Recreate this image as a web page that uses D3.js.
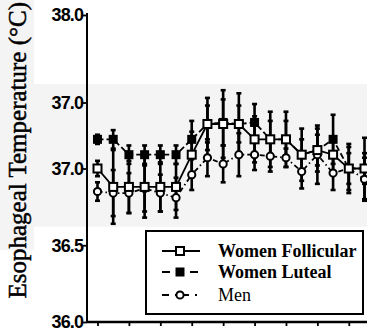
<!DOCTYPE html>
<html><head><meta charset="utf-8">
<script src="https://cdn.jsdelivr.net/npm/d3@7"></script>
<style>html,body{margin:0;padding:0;background:#fff;}svg{display:block;}</style>
</head><body><svg id="c" width="367" height="336"></svg>
<script>
const timePoints = d3.range(18);
const xTicks = [0, 2, 4, 6, 8, 10, 12, 14, 16];
const yTickValues = [36.0, 36.5, 37.0, 37.43, 38.0];
const yTickLabels = ["36.0", "36.5", "37.0", "37.0", "38.0"];
const seriesNames = ["Women Follicular", "Women Luteal", "Men"];
const follicular = [37.00, 36.88, 36.88, 36.88, 36.88, 36.88, 37.09, 37.29, 37.29, 37.29, 37.19, 37.19, 37.19, 37.09, 37.12, 37.09, 37.00, 37.00];
const follicularErr = [0.05, 0.24, 0.17, 0.20, 0.16, 0.15, 0.15, 0.17, 0.22, 0.20, 0.15, 0.18, 0.18, 0.17, 0.14, 0.12, 0.14, 0.20];
const luteal = [37.19, 37.19, 37.09, 37.09, 37.09, 37.09, 37.19, 37.29, 37.30, 37.29, 37.30, 37.19, 37.19, 37.09, 37.12, 37.19, 37.00, 37.00];
const lutealErr = [0.03, 0.06, 0.06, 0.06, 0.06, 0.06, 0.12, 0.12, 0.15, 0.12, 0.12, 0.12, 0.12, 0.10, 0.10, 0.16, 0.10, 0.10];
const men = [36.85, 36.84, 36.84, 36.87, 36.84, 36.81, 36.96, 37.07, 37.03, 37.09, 37.09, 37.08, 37.07, 36.98, 37.09, 36.97, 37.00, 36.93];
const menErr = [0.06, 0.15, 0.13, 0.15, 0.12, 0.13, 0.10, 0.12, 0.12, 0.14, 0.10, 0.10, 0.06, 0.11, 0.19, 0.11, 0.16, 0.14];
const yTitle = "Esophageal Temperature (°C)";

const svg = d3.select("#c");
const x = d3.scaleLinear().domain([0, 17]).range([97.5, 364.5]);
const y = d3.scaleLinear().domain([36, 38]).range([322, 15]);

// scanned light-gray patches
svg.append("rect").attr("x", 0).attr("y", 0).attr("width", 34).attr("height", 250).attr("fill", "#f4f4f4");
svg.append("rect").attr("x", 33).attr("y", y(37.55)).attr("width", 334).attr("height", y(36.62) - y(37.55)).attr("fill", "#f4f4f4");

const series = [
  {name: seriesNames[0], vals: follicular, err: follicularErr, dash: null, marker: "sqOpen"},
  {name: seriesNames[1], vals: luteal, err: lutealErr, dash: "6,3", marker: "sqFill"},
  {name: seriesNames[2], vals: men, err: menErr, dash: "5,3,1.5,3", marker: "circ"}
];

// error bars
const eb = svg.append("g").attr("stroke", "#000").attr("stroke-width", 2.6);
series.forEach(s => {
  timePoints.forEach(i => {
    const cx = x(i), lo = y(s.vals[i] - s.err[i]), hi = y(s.vals[i] + s.err[i]);
    eb.append("line").attr("x1", cx).attr("x2", cx).attr("y1", lo).attr("y2", hi);
    eb.append("line").attr("x1", cx - 2.5).attr("x2", cx + 2.5).attr("y1", lo).attr("y2", lo);
    eb.append("line").attr("x1", cx - 2.5).attr("x2", cx + 2.5).attr("y1", hi).attr("y2", hi);
  });
});

// lines
const line = d3.line().x((d, i) => x(i)).y(d => y(d));
series.forEach(s => {
  svg.append("path").datum(s.vals).attr("d", line).attr("fill", "none")
    .attr("stroke", "#000").attr("stroke-width", 1.8)
    .attr("stroke-dasharray", s.dash);
});

function drawMarker(g, type, cx, cy) {
  if (type === "sqOpen") {
    g.append("rect").attr("x", cx - 4).attr("y", cy - 4).attr("width", 8).attr("height", 8)
      .attr("fill", "#fff").attr("stroke", "#000").attr("stroke-width", 2);
  } else if (type === "sqFill") {
    g.append("rect").attr("x", cx - 4.5).attr("y", cy - 4.5).attr("width", 9).attr("height", 9)
      .attr("fill", "#000");
  } else {
    g.append("circle").attr("cx", cx).attr("cy", cy).attr("r", 3.6)
      .attr("fill", "#fff").attr("stroke", "#000").attr("stroke-width", 2);
  }
}
[series[1], series[2], series[0]].forEach(s => {
  const g = svg.append("g");
  timePoints.forEach(i => drawMarker(g, s.marker, x(i), y(s.vals[i])));
});

// axes
const yAxis = svg.append("g").attr("transform", "translate(87,0)")
  .call(d3.axisLeft(y).tickValues(yTickValues).tickFormat((d, i) => yTickLabels[i]).tickSize(4).tickSizeOuter(0));
yAxis.select(".domain").attr("stroke", "#000").attr("stroke-width", 2).attr("d", `M0,${y(38) - 2}V${y(36)}`);
yAxis.selectAll(".tick line").attr("stroke", "#000").attr("stroke-width", 1.8);
yAxis.selectAll(".tick text").attr("font-family", "Liberation Sans, Arial, sans-serif")
  .attr("font-weight", "bold").attr("font-size", 18).attr("fill", "#000")
  .attr("letter-spacing", "-0.9").attr("x", -4);

const xAxis = svg.append("g").attr("transform", `translate(0,${y(36)})`)
  .call(d3.axisBottom(x).tickValues(xTicks).tickFormat("").tickSize(4).tickSizeOuter(0));
xAxis.select(".domain").attr("stroke", "#000").attr("stroke-width", 2.6).attr("d", "M87,0H367");
xAxis.selectAll(".tick line").attr("stroke", "#000").attr("stroke-width", 1.8);

// y title
svg.append("text").attr("transform", "translate(26,2) rotate(-90)")
  .attr("text-anchor", "end").attr("font-family", "Liberation Serif, Times New Roman, serif")
  .attr("font-size", 25).attr("fill", "#000").attr("stroke", "#000").attr("stroke-width", 0.5)
  .text(yTitle);

// legend
const lg = svg.append("g");
lg.append("rect").attr("x", 146).attr("y", 231).attr("width", 217).attr("height", 83)
  .attr("fill", "#fff").attr("stroke", "#000").attr("stroke-width", 2);
const rowY = [251, 272, 295];
series.forEach((s, k) => {
  lg.append("line").attr("x1", 162).attr("x2", 200).attr("y1", rowY[k]).attr("y2", rowY[k])
    .attr("stroke", "#000").attr("stroke-width", 2.2).attr("stroke-dasharray", s.dash ? (k === 1 ? "8,6" : "7,6,2,5") : null);
  drawMarker(lg, s.marker, 180, rowY[k]);
  lg.append("text").attr("x", 218).attr("y", rowY[k] + 6)
    .attr("font-family", "Liberation Serif, Times New Roman, serif")
    .attr("font-size", 18).attr("font-weight", k < 2 ? "bold" : "normal").attr("fill", "#000")
    .text(s.name);
});
</script></body></html>
